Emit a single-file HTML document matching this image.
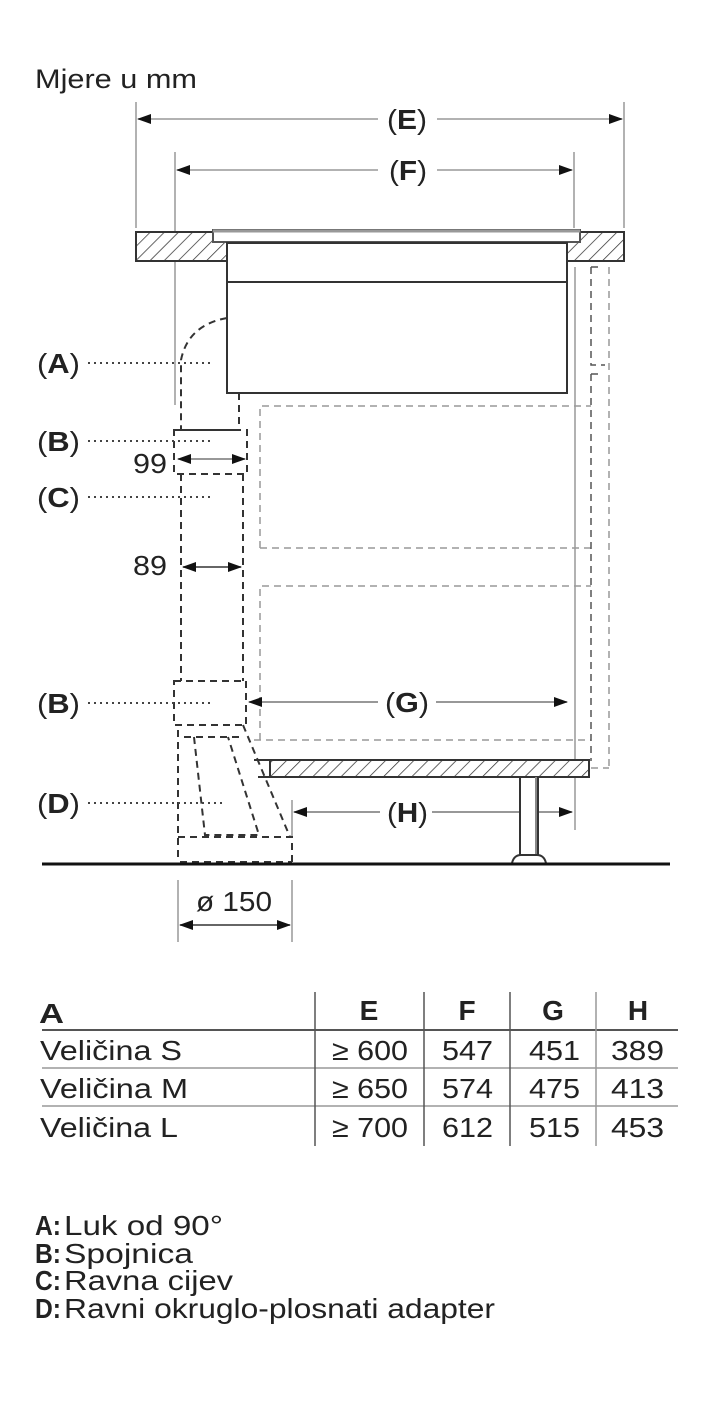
<!DOCTYPE html>
<html><head><meta charset="utf-8"><style>
html,body{margin:0;padding:0;background:#fff;}
svg{display:block;}
text{font-family:"Liberation Sans",Arial,sans-serif;fill:#222;}
</style></head><body>
<svg width="709" height="1417" viewBox="0 0 709 1417" xmlns="http://www.w3.org/2000/svg">
<defs>
<pattern id="h" patternUnits="userSpaceOnUse" width="10" height="10" patternTransform="rotate(45)">
<rect width="10" height="10" fill="#fff"/><line x1="0" y1="0" x2="0" y2="10" stroke="#333" stroke-width="1.5"/>
</pattern>
<marker id="ar" markerWidth="14" markerHeight="10" refX="13" refY="5" orient="auto" markerUnits="userSpaceOnUse"><path d="M0,0 L14,5 L0,10 Z" fill="#111"/></marker>
<marker id="al" markerWidth="14" markerHeight="10" refX="1" refY="5" orient="auto" markerUnits="userSpaceOnUse"><path d="M14,0 L0,5 L14,10 Z" fill="#111"/></marker>
</defs>

<text x="35" y="88" font-size="27" textLength="162" lengthAdjust="spacingAndGlyphs">Mjere u mm</text>

<g stroke="#999" stroke-width="1.5" fill="none">
<line x1="136" y1="102" x2="136" y2="228"/>
<line x1="624" y1="102" x2="624" y2="228"/>
<line x1="175" y1="152" x2="175" y2="405"/>
<line x1="574" y1="152" x2="574" y2="228"/>
<line x1="575" y1="267" x2="575" y2="830"/>
<line x1="178" y1="880" x2="178" y2="942"/>
<line x1="292" y1="880" x2="292" y2="942"/>
<line x1="292" y1="800" x2="292" y2="837"/>
</g>
<g stroke="#999" stroke-width="1.5">
<line x1="138" y1="119" x2="378" y2="119" marker-start="url(#al)"/>
<line x1="437" y1="119" x2="622" y2="119" marker-end="url(#ar)"/>
<line x1="177" y1="170" x2="378" y2="170" marker-start="url(#al)"/>
<line x1="437" y1="170" x2="572" y2="170" marker-end="url(#ar)"/>
</g>
<text x="387" y="129" font-size="28" textLength="40" lengthAdjust="spacingAndGlyphs">(<tspan font-weight="bold">E</tspan>)</text>
<text x="389" y="180" font-size="28" textLength="38" lengthAdjust="spacingAndGlyphs">(<tspan font-weight="bold">F</tspan>)</text>

<rect x="136" y="232" width="91" height="29" fill="url(#h)" stroke="#333" stroke-width="2"/>
<rect x="567" y="232" width="57" height="29" fill="url(#h)" stroke="#333" stroke-width="2"/>
<rect x="213" y="230" width="367" height="12" fill="#fff" stroke="#555" stroke-width="2"/>
<line x1="213" y1="231" x2="580" y2="231" stroke="#999" stroke-width="3"/>
<rect x="227" y="243" width="340" height="150" fill="#fff" stroke="#333" stroke-width="2"/>
<line x1="227" y1="282" x2="567" y2="282" stroke="#333" stroke-width="2"/>

<g fill="none" stroke="#999" stroke-width="1.5" stroke-dasharray="7,5">
<path d="M260,548 V406 H591"/>
<path d="M260,548 H591"/>
<path d="M260,740 V586 H591"/>
<path d="M254,740 H591"/>
<line x1="609" y1="267" x2="609" y2="768"/>
<line x1="591" y1="768" x2="609" y2="768"/>
</g>
<g fill="none" stroke="#555" stroke-width="1.5" stroke-dasharray="7,5">
<path d="M591,267 H598 M591,267 V365 H605 M591,374 H598 M591,374 V761"/>
</g>

<g fill="none" stroke="#333" stroke-width="2" stroke-dasharray="7,5">
<path d="M227,318 Q188,325 181,360 V430"/>
<path d="M239,393 V430"/>
<path d="M181,430 H239"/>
<rect x="174" y="430" width="73" height="44"/>
<path d="M181,474 V681 M243,474 V681"/>
<rect x="174" y="681" width="72" height="44"/>
<path d="M178,730 V862 M178,837 H292 V862 M180,862 H292"/>
<path d="M184,737 H239 M194,737 L205,835 H259 L228,737"/>
<path d="M243,725 L290,837"/>
</g>

<g stroke="#777" stroke-width="1.5">
<line x1="178" y1="459" x2="245" y2="459" marker-start="url(#al)" marker-end="url(#ar)"/>
<line x1="183" y1="567" x2="241" y2="567" stroke="#333" marker-start="url(#al)" marker-end="url(#ar)"/>
</g>
<text x="133" y="473" font-size="28" textLength="34" lengthAdjust="spacingAndGlyphs">99</text>
<text x="133" y="575" font-size="28" textLength="34" lengthAdjust="spacingAndGlyphs">89</text>

<g stroke="#444" stroke-width="2" stroke-dasharray="2,4">
<line x1="88" y1="363" x2="210" y2="363"/>
<line x1="88" y1="441" x2="210" y2="441"/>
<line x1="88" y1="497" x2="210" y2="497"/>
<line x1="88" y1="703" x2="210" y2="703"/>
<line x1="88" y1="803" x2="225" y2="803"/>
</g>
<g font-size="28">
<text x="37" y="373" textLength="43" lengthAdjust="spacingAndGlyphs">(<tspan font-weight="bold">A</tspan>)</text>
<text x="37" y="451" textLength="43" lengthAdjust="spacingAndGlyphs">(<tspan font-weight="bold">B</tspan>)</text>
<text x="37" y="507" textLength="43" lengthAdjust="spacingAndGlyphs">(<tspan font-weight="bold">C</tspan>)</text>
<text x="37" y="713" textLength="43" lengthAdjust="spacingAndGlyphs">(<tspan font-weight="bold">B</tspan>)</text>
<text x="37" y="813" textLength="43" lengthAdjust="spacingAndGlyphs">(<tspan font-weight="bold">D</tspan>)</text>
</g>

<g stroke="#777" stroke-width="1.5">
<line x1="249" y1="702" x2="378" y2="702" marker-start="url(#al)"/>
<line x1="436" y1="702" x2="567" y2="702" marker-end="url(#ar)"/>
<line x1="294" y1="812" x2="380" y2="812" marker-start="url(#al)"/>
<line x1="432" y1="812" x2="572" y2="812" marker-end="url(#ar)"/>
</g>
<text x="385" y="712" font-size="28" textLength="44" lengthAdjust="spacingAndGlyphs">(<tspan font-weight="bold">G</tspan>)</text>
<text x="387" y="822" font-size="28" textLength="41" lengthAdjust="spacingAndGlyphs">(<tspan font-weight="bold">H</tspan>)</text>

<line x1="254" y1="760" x2="270" y2="760" stroke="#333" stroke-width="2"/>
<line x1="258" y1="777" x2="270" y2="777" stroke="#333" stroke-width="2"/>
<rect x="270" y="760" width="319" height="17" fill="url(#h)" stroke="#333" stroke-width="2"/>
<rect x="520" y="777" width="18" height="78" fill="#fff" stroke="#333" stroke-width="2"/>
<line x1="536" y1="777" x2="536" y2="855" stroke="#888" stroke-width="2"/>
<path d="M512,863 Q514,855 521,855 H537 Q544,855 546,863" fill="#fff" stroke="#333" stroke-width="2"/>
<line x1="42" y1="864" x2="670" y2="864" stroke="#111" stroke-width="3"/>

<line x1="180" y1="925" x2="290" y2="925" stroke="#333" stroke-width="1.5" marker-start="url(#al)" marker-end="url(#ar)"/>
<text x="196" y="911" font-size="28" textLength="76" lengthAdjust="spacingAndGlyphs">ø 150</text>

<g stroke="#555" stroke-width="1.5">
<line x1="42" y1="1030" x2="678" y2="1030" stroke-width="2"/>
<line x1="42" y1="1068" x2="678" y2="1068" stroke="#999"/>
<line x1="42" y1="1106" x2="678" y2="1106" stroke="#999"/>
<line x1="315" y1="992" x2="315" y2="1146"/>
<line x1="424" y1="992" x2="424" y2="1146"/>
<line x1="510" y1="992" x2="510" y2="1146"/>
<line x1="596" y1="992" x2="596" y2="1146" stroke="#999"/>
</g>
<g font-size="28">
<text x="39" y="1023" font-weight="bold" textLength="25" lengthAdjust="spacingAndGlyphs">A</text>
<text x="369" y="1020" font-weight="bold" text-anchor="middle">E</text>
<text x="467" y="1020" font-weight="bold" text-anchor="middle">F</text>
<text x="553" y="1020" font-weight="bold" text-anchor="middle">G</text>
<text x="638" y="1020" font-weight="bold" text-anchor="middle">H</text>
<text x="40" y="1060" textLength="142" lengthAdjust="spacingAndGlyphs">Veličina S</text>
<text x="40" y="1098" textLength="148" lengthAdjust="spacingAndGlyphs">Veličina M</text>
<text x="40" y="1137" textLength="138" lengthAdjust="spacingAndGlyphs">Veličina L</text>
<text x="332" y="1060" textLength="76" lengthAdjust="spacingAndGlyphs">≥ 600</text>
<text x="332" y="1098" textLength="76" lengthAdjust="spacingAndGlyphs">≥ 650</text>
<text x="332" y="1137" textLength="76" lengthAdjust="spacingAndGlyphs">≥ 700</text>
<text x="442" y="1060" textLength="51" lengthAdjust="spacingAndGlyphs">547</text>
<text x="442" y="1098" textLength="51" lengthAdjust="spacingAndGlyphs">574</text>
<text x="442" y="1137" textLength="51" lengthAdjust="spacingAndGlyphs">612</text>
<text x="529" y="1060" textLength="51" lengthAdjust="spacingAndGlyphs">451</text>
<text x="529" y="1098" textLength="51" lengthAdjust="spacingAndGlyphs">475</text>
<text x="529" y="1137" textLength="51" lengthAdjust="spacingAndGlyphs">515</text>
<text x="611" y="1060" textLength="53" lengthAdjust="spacingAndGlyphs">389</text>
<text x="611" y="1098" textLength="53" lengthAdjust="spacingAndGlyphs">413</text>
<text x="611" y="1137" textLength="53" lengthAdjust="spacingAndGlyphs">453</text>
</g>

<g font-size="28">
<text x="35" y="1235" font-weight="bold" textLength="26" lengthAdjust="spacingAndGlyphs">A:</text>
<text x="64" y="1235" textLength="159" lengthAdjust="spacingAndGlyphs">Luk od 90°</text>
<text x="35" y="1263" font-weight="bold" textLength="26" lengthAdjust="spacingAndGlyphs">B:</text>
<text x="64" y="1263" textLength="129" lengthAdjust="spacingAndGlyphs">Spojnica</text>
<text x="35" y="1290" font-weight="bold" textLength="26" lengthAdjust="spacingAndGlyphs">C:</text>
<text x="64" y="1290" textLength="169" lengthAdjust="spacingAndGlyphs">Ravna cijev</text>
<text x="35" y="1318" font-weight="bold" textLength="26" lengthAdjust="spacingAndGlyphs">D:</text>
<text x="64" y="1318" textLength="431" lengthAdjust="spacingAndGlyphs">Ravni okruglo-plosnati adapter</text>
</g>
</svg>
</body></html>
